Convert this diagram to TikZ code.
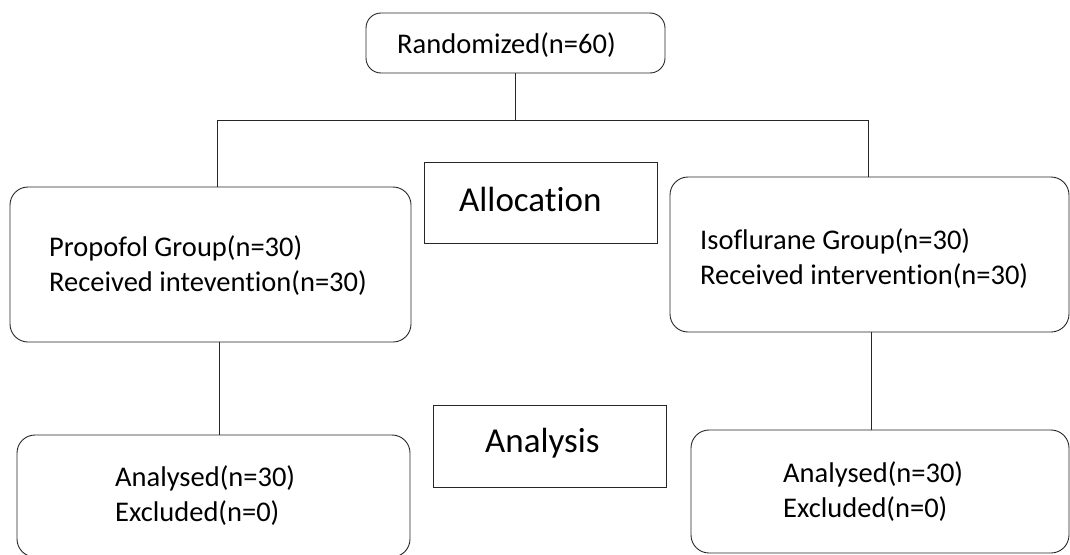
\documentclass[tikz,border=0pt]{standalone}
\usepackage{fontspec}
\setmainfont{Carlito}[Ligatures=NoCommon]
\begin{document}
\begin{tikzpicture}[x=1pt,y=-1pt,
  rbox/.style={draw=black!85, rounded corners=18pt, line width=0.9pt, inner sep=0pt},
  sbox/.style={draw=black!85, line width=0.9pt, inner sep=0pt},
  conn/.style={draw=black!85, line width=0.9pt},
  txt/.style={font=\fontsize{28.5}{35.5}\selectfont, align=left, inner sep=0pt, anchor=base west},
  big/.style={font=\fontsize{35}{42}\selectfont, inner sep=0pt, anchor=base west}]
\useasboundingbox (0,0) rectangle (1070,554);
\clip (0,0) rectangle (1070,554);
% boxes
\node[rbox, rounded corners=15pt, minimum width=299pt, minimum height=60pt] (rand) at (515.5,43) {};
\node[rbox, minimum width=401pt, minimum height=155pt] (prop) at (210.5,264.5) {};
\node[rbox, minimum width=399pt, minimum height=155pt] (iso) at (869.5,254.5) {};
\node[sbox, minimum width=233pt, minimum height=81pt] (alloc) at (540.5,202.5) {};
\node[sbox, minimum width=233pt, minimum height=82pt] (anbox) at (549.5,446) {};
\node[rbox, minimum width=393pt, minimum height=122pt] (anl) at (213.5,496) {};
\node[rbox, minimum width=378pt, minimum height=123pt] (anr) at (880,491.5) {};
% texts (base anchor = baseline of last line)
\node[txt] (randT) at (397,53) {Randomized(n=60)};
\node[txt] (propT) at (49,291.5) {Propofol Group(n=30)\\Received intevention(n=30)};
\node[txt] (isoT) at (700,284.5) {Isoflurane Group(n=30)\\Received intervention(n=30)};
\node[big] (allocT) at (459,211) {Allocation};
\node[big] (anT) at (485,452) {Analysis};
\node[txt] (anlT) at (115,521.5) {Analysed(n=30)\\Excluded(n=0)};
\node[txt] (anrT) at (783,517.5) {Analysed(n=30)\\Excluded(n=0)};
% connectors
\coordinate (jl) at (217,120);
\coordinate (jr) at (868,120);
\coordinate (pl) at (219,0);
\coordinate (pr) at (871,0);
\draw[conn] (rand.south) -- (rand.south |- jl);
\draw[conn] (jl) -- (jr);
\draw[conn] (jl) -- (jl |- prop.north);
\draw[conn] (jr) -- (jr |- iso.north);
\draw[conn] (pl |- prop.south) -- (pl |- anl.north);
\draw[conn] (pr |- iso.south) -- (pr |- anr.north);
\end{tikzpicture}
\end{document}
